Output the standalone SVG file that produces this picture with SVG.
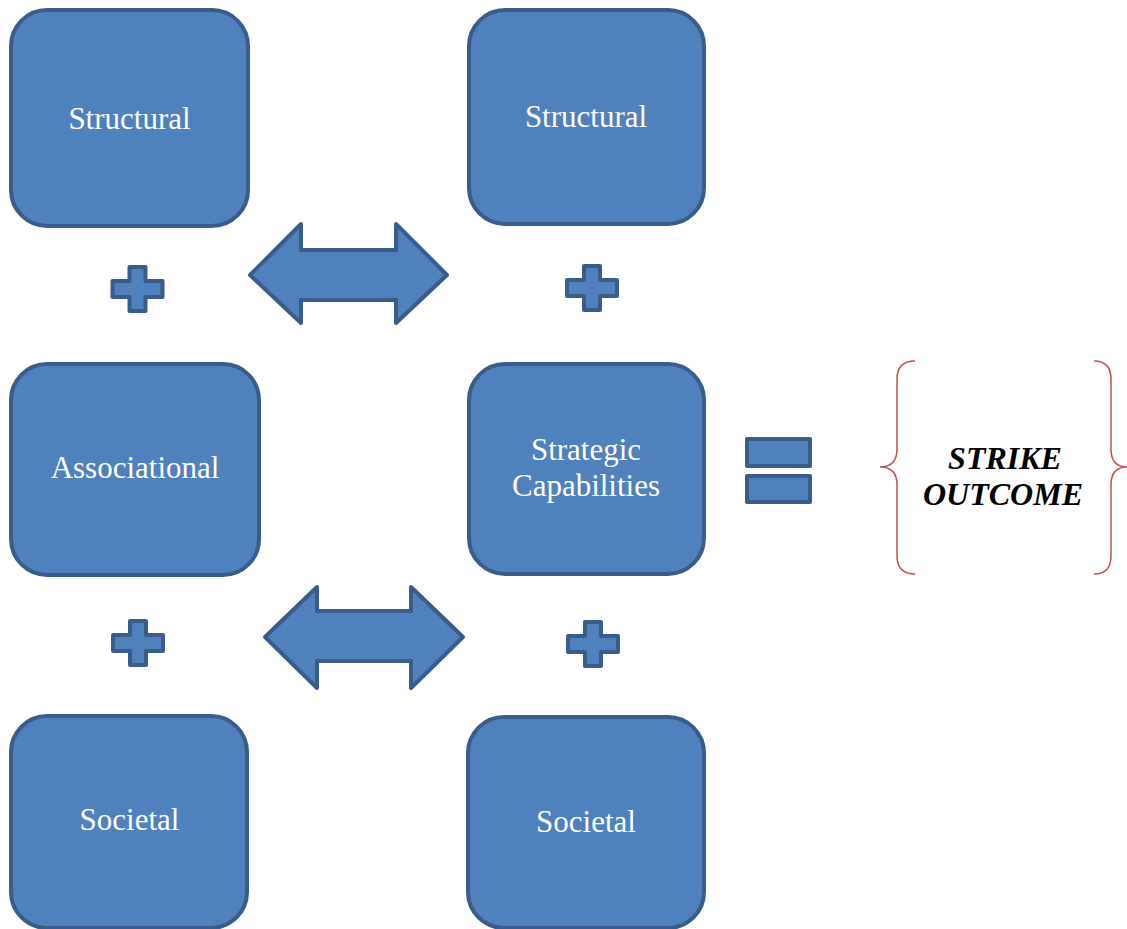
<svg xmlns="http://www.w3.org/2000/svg" width="1127" height="929" viewBox="0 0 1127 929">
<style>
.box{fill:#4F81BD;stroke:#385D8A;stroke-width:4}
.sym{fill:#4F81BD;stroke:#385D8A;stroke-width:4;stroke-linejoin:round}
.lbl{font-family:"Liberation Serif","Times New Roman",serif;font-size:31px;fill:#FFFFFF;text-anchor:middle}
.out{font-family:"Liberation Serif","Times New Roman",serif;font-size:32px;font-weight:bold;font-style:italic;fill:#000000;text-anchor:middle}
.brace{fill:none;stroke:#C0504D;stroke-width:1.5}
</style>
<defs>
<path id="plus" d="M-8,-22 H8 V-8 H25 V8 H8 V22 H-8 V8 H-25 V-8 H-8 Z"/>
</defs>
<rect width="1127" height="929" fill="#FFFFFF"/>
<g id="n1"><rect class="box" x="11" y="10" width="237" height="216" rx="36"/><text class="lbl" x="129.5" y="129">Structural</text></g>
<g id="n2"><rect class="box" x="469" y="10" width="235" height="214" rx="36"/><text class="lbl" x="586" y="127">Structural</text></g>
<g id="n3"><rect class="box" x="11" y="364" width="248" height="211" rx="36"/><text class="lbl" x="135" y="478">Associational</text></g>
<g id="n4"><rect class="box" x="469" y="364" width="235" height="210" rx="36"/><text class="lbl" x="586" y="460">Strategic</text><text class="lbl" x="586" y="496">Capabilities</text></g>
<g id="n5"><rect class="box" x="11" y="716" width="236" height="212" rx="36"/><text class="lbl" x="129.5" y="830">Societal</text></g>
<g id="n6"><rect class="box" x="468" y="717" width="236" height="211" rx="36"/><text class="lbl" x="586" y="832">Societal</text></g>
<g id="plus1"><use href="#plus" class="sym" transform="translate(137.5,289)"/></g>
<g id="plus2"><use href="#plus" class="sym" transform="translate(592,288)"/></g>
<g id="plus3"><use href="#plus" class="sym" transform="translate(138,643)"/></g>
<g id="plus4"><use href="#plus" class="sym" transform="translate(593,644)"/></g>
<g id="equals"><rect class="sym" x="747" y="439" width="63" height="27"/><rect class="sym" x="747" y="476" width="63" height="26"/></g>
<g id="outcome">
<path class="brace" d="M915,361 Q897,361 897,379 L897,449 Q897,467 880,467 Q897,467 897,485 L897,556 Q897,574 915,574"/>
<path class="brace" d="M1094,361 Q1111,361 1111,379 L1111,449 Q1111,467 1127,467 Q1111,467 1111,485 L1111,556 Q1111,574 1094,574"/>
<text class="out" x="1005" y="469">STRIKE</text>
<text class="out" x="1003" y="505">OUTCOME</text>
</g>
<g id="connectors">
<polygon class="sym" points="250,275 301,224 301,250 396,250 396,224 447,275 396,323 396,300 301,300 301,323"/>
<polygon class="sym" points="265,637 317,587 317,611 411,611 411,587 463,637 411,688 411,661 317,661 317,688"/>
</g>
</svg>
